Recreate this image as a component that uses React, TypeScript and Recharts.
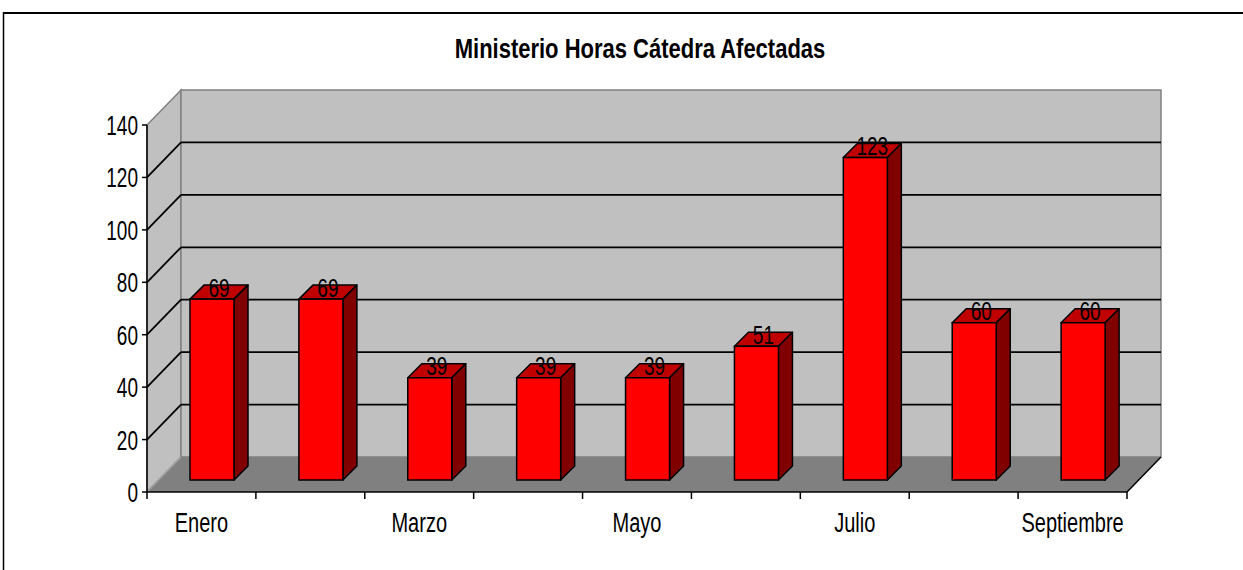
/* Ministerio: horas cátedra afectadas por mes, barras 3D al estilo Excel. */

import React from "react";
import { Bar, BarChart, CartesianGrid, XAxis, YAxis } from "recharts";

const months = ["Enero", "Febrero", "Marzo", "Abril", "Mayo", "Junio", "Julio", "Agosto", "Septiembre"];
const horas = [69, 69, 39, 39, 39, 51, 123, 60, 60];
const yTicks = [0, 20, 40, 60, 80, 100, 120, 140];

const data = months.map((mes, i) => ({ mes, horas: horas[i] }));

const W = 1243;
const H = 570;
const FONT = '"Liberation Sans", Arial, sans-serif';

// oblique depth of the walls, and where the bars sit inside it
const DEPTH_X = 34;
const DEPTH_Y = 35;
const BAR_SHIFT_X = 11;
const BAR_SHIFT_Y = 12;
const BAR_DX = 14;
const BAR_DY = 14;

function GridLine(props: any) {
  const { x1, x2, y1, index } = props;
  const left = props.x ?? x1;
  const width = props.width ?? x2 - x1;
  const top = props.y ?? 125;
  const bottom = top + (props.height ?? 367);
  const right = left + width;

  const walls =
    index === 0 ? (
      <g>
        <polygon
          points={`${left},${top} ${left + DEPTH_X},${top - DEPTH_Y} ${left + DEPTH_X},${bottom - DEPTH_Y} ${left},${bottom}`}
          fill="#c0c0c0"
          stroke="#808080"
          strokeWidth={1.5}
        />
        <rect
          x={left + DEPTH_X}
          y={top - DEPTH_Y}
          width={width}
          height={bottom - top}
          fill="#c0c0c0"
          stroke="#808080"
          strokeWidth={1.5}
        />
        <polygon
          points={`${left},${bottom} ${right},${bottom} ${right + DEPTH_X},${bottom - DEPTH_Y} ${left + DEPTH_X},${bottom - DEPTH_Y}`}
          fill="#808080"
        />
        <line
          x1={left}
          y1={bottom}
          x2={left + DEPTH_X}
          y2={bottom - DEPTH_Y}
          stroke="#a0a0a0"
          strokeWidth={1.5}
        />
        <line
          x1={right}
          y1={bottom}
          x2={right + DEPTH_X}
          y2={bottom - DEPTH_Y}
          stroke="#000"
          strokeWidth={1.5}
        />
      </g>
    ) : null;

  const inner = Math.abs(y1 - top) > 1 && Math.abs(y1 - bottom) > 1;

  return (
    <g key={`grid-${index}`}>
      {walls}
      {inner && (
        <g stroke="#000" strokeWidth={1.8}>
          <line x1={left} y1={y1} x2={left + DEPTH_X} y2={y1 - DEPTH_Y} />
          <line x1={left + DEPTH_X} y1={y1 - DEPTH_Y} x2={right + DEPTH_X} y2={y1 - DEPTH_Y} />
        </g>
      )}
    </g>
  );
}

function Bar3D(props: any) {
  const { x, y, width, height, payload } = props;
  if (height == null || height <= 0) return null;
  const fx = x + BAR_SHIFT_X;
  const fy = y - BAR_SHIFT_Y;
  const fr = fx + width;
  const fb = fy + height;
  const cx = fx + width / 2 + BAR_DX / 2;
  const cy = fy - BAR_DY / 2 - 5;

  return (
    <g>
      <polygon
        points={`${fx},${fy} ${fr},${fy} ${fr + BAR_DX},${fy - BAR_DY} ${fx + BAR_DX},${fy - BAR_DY}`}
        fill="#c00000"
        stroke="#000"
        strokeWidth={1.5}
        strokeLinejoin="round"
      />
      <polygon
        points={`${fr},${fy} ${fr + BAR_DX},${fy - BAR_DY} ${fr + BAR_DX},${fb - BAR_DY} ${fr},${fb}`}
        fill="#800000"
        stroke="#000"
        strokeWidth={1.5}
        strokeLinejoin="round"
      />
      <rect x={fx} y={fy} width={width} height={height} fill="#ff0000" stroke="#000" strokeWidth={1.5} />
      <text
        transform={`translate(${cx},${cy}) scale(1,1.4)`}
        textAnchor="middle"
        dy="0.36em"
        fontSize={19}
        fontFamily={FONT}
        fill="#000"
      >
        {payload.horas}
      </text>
    </g>
  );
}

function YTick({ x, y, payload }: any) {
  return (
    <text
      transform={`translate(${x - 2},${y}) scale(1,1.45)`}
      textAnchor="end"
      dy="0.36em"
      fontSize={19}
      fontFamily={FONT}
      fill="#000"
    >
      {payload.value}
    </text>
  );
}

function XTick({ x, y, payload, index }: any) {
  const off = payload.offset ?? 980 / months.length / 2;
  return (
    <g>
      <line x1={x - off} x2={x - off} y1={y - 7} y2={y} stroke="#000" strokeWidth={1.5} />
      {index === months.length - 1 && (
        <line x1={x + off} x2={x + off} y1={y - 7} y2={y} stroke="#000" strokeWidth={1.5} />
      )}
      {index % 2 === 0 && (
        <text
          transform={`translate(${x},${y + 33}) scale(1,1.4)`}
          textAnchor="middle"
          fontSize={20}
          fontFamily={FONT}
          fill="#000"
        >
          {payload.value}
        </text>
      )}
    </g>
  );
}

export default function App() {
  return (
    <div style={{ position: "fixed", left: 0, top: 0, width: W, height: H, background: "#fff" }}>
      <svg width={W} height={H} style={{ position: "absolute", left: 0, top: 0 }}>
        <line x1={3.5} y1={13} x2={W} y2={13} stroke="#000" strokeWidth={2} />
        <line x1={3.5} y1={12} x2={3.5} y2={H} stroke="#000" strokeWidth={1.5} />
        <text
          transform="translate(640,58) scale(1,1.27)"
          textAnchor="middle"
          fontSize={22}
          fontWeight="bold"
          fontFamily={FONT}
          fill="#000"
        >
          Ministerio Horas Cátedra Afectadas
        </text>
      </svg>
      <div style={{ position: "absolute", left: 0, top: 0 }}>
        <BarChart
          width={W}
          height={H}
          data={data}
          margin={{ top: 125, right: 116, left: 87, bottom: 38 }}
          barSize={44}
        >
          <CartesianGrid vertical={false} horizontal={GridLine} />
          <XAxis
            dataKey="mes"
            height={40}
            interval={0}
            tickLine={false}
            tickSize={7}
            tickMargin={0}
            tick={XTick}
            axisLine={{ stroke: "#000", strokeWidth: 1.5 }}
          />
          <YAxis
            width={60}
            domain={[0, 140]}
            ticks={yTicks}
            interval={0}
            tickSize={5}
            tick={YTick}
            tickLine={{ stroke: "#000", strokeWidth: 1.5 }}
            axisLine={{ stroke: "#000", strokeWidth: 1.5 }}
          />
          <Bar dataKey="horas" shape={Bar3D} isAnimationActive={false} />
        </BarChart>
      </div>
    </div>
  );
}
